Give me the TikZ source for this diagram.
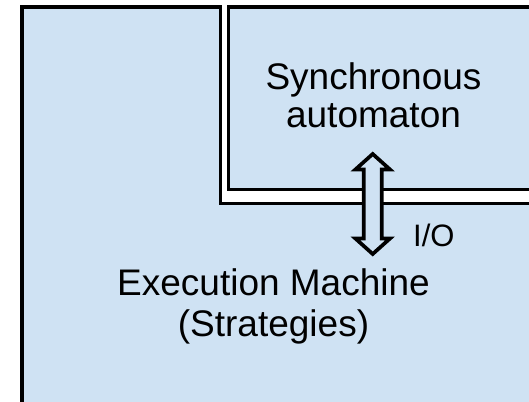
\documentclass[tikz,border=0pt]{standalone}
\usepackage{fontspec}
\setmainfont{Liberation Sans}
\definecolor{panel}{HTML}{CFE2F3}
\tikzset{
  region/.style={fill=panel, draw=black, line width=3.7pt, line join=miter},
  label/.style={inner sep=0pt, align=center, font=\fontsize{37}{#1}\selectfont},
  label/.default=40,
  smalllabel/.style={inner sep=0pt, font=\fontsize{31}{34}\selectfont},
}
\begin{document}
\begin{tikzpicture}[x=1pt, y=-1pt]
\useasboundingbox (0,0) rectangle (529,401);
\clip (0,0) rectangle (529,401);
% execution machine: L-shaped region running off the right and bottom
\path[region] (22.3,6.7) -- (220.5,6.7) -- (220.5,203.5) -- (545,203.5)
  -- (545,420) -- (22.3,420) -- cycle;
% synchronous automaton, nested in the notch
\path[region] (228.5,6.7) -- (545,6.7) -- (545,189.5) -- (228.5,189.5) -- cycle;
% double-headed I/O arrow
\path[region] (372.7,154) -- (390,169.5) -- (381.7,169.5) -- (381.7,238.5)
  -- (390,238.5) -- (372.7,254) -- (355.4,238.5) -- (363.7,238.5)
  -- (363.7,169.5) -- (355.4,169.5) -- cycle;
% labels (base anchor sits on the last line)
\node[label=38, anchor=base] (sync) at (373.5,127) {Synchronous\\automaton};
\node[label=41, anchor=base] (exec) at (273.5,336) {Execution Machine\\(Strategies)};
\node[smalllabel, anchor=base west] (io) at (413,246) {I/O};
\end{tikzpicture}
\end{document}
